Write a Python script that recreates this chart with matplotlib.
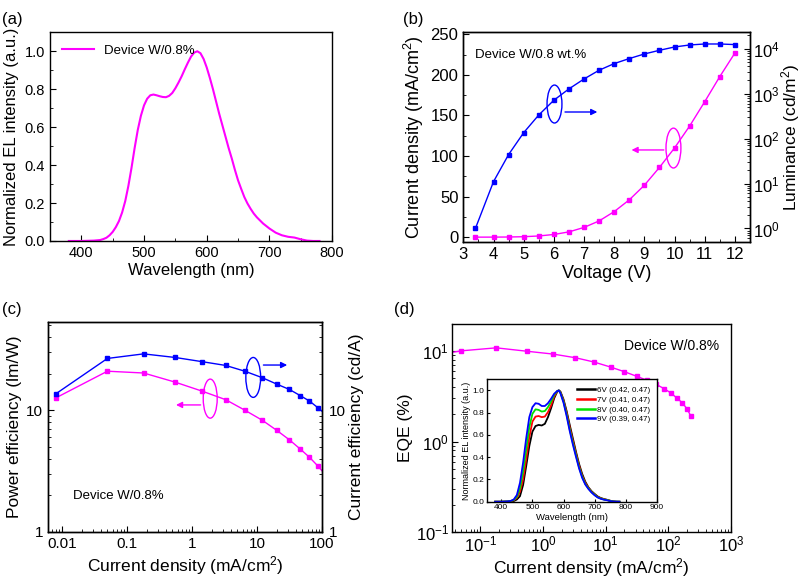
import numpy as np
import matplotlib.pyplot as plt
from matplotlib.patches import Ellipse
from matplotlib.ticker import MultipleLocator, LogLocator, FuncFormatter, NullFormatter

plt.rcParams['font.family'] = ['Liberation Sans', 'DejaVu Sans']
plt.rcParams['mathtext.fontset'] = 'custom'
plt.rcParams['mathtext.rm'] = 'Liberation Sans'
plt.rcParams['mathtext.it'] = 'Liberation Sans:italic'
plt.rcParams['axes.unicode_minus'] = False
plt.rcParams['xtick.direction'] = 'in'
plt.rcParams['ytick.direction'] = 'in'
plt.rcParams['axes.linewidth'] = 1.0

MAG = '#ff00ff'
BLUE = '#0000ff'

# (a) EL spectrum
wl = [380, 400, 420, 430, 435, 440, 445, 450, 455, 460, 465, 470, 475, 480, 485, 490, 495,
      500, 505, 510, 515, 520, 525, 530, 535, 540, 545, 550, 555, 560, 565, 570, 575,
      580, 585, 590, 595, 600, 605, 610, 615, 620, 625, 630, 635, 640, 645, 650, 655,
      660, 665, 670, 675, 680, 690, 700, 710, 720, 730, 740, 750, 760, 770, 780]
el_a = [0, 0, 0.002, 0.005, 0.01, 0.017, 0.03, 0.048, 0.073, 0.105, 0.15, 0.21, 0.29, 0.385, 0.49, 0.585, 0.66,
        0.715, 0.75, 0.768, 0.772, 0.768, 0.763, 0.759, 0.758, 0.765, 0.78, 0.805, 0.835, 0.868, 0.905, 0.94, 0.972,
        0.993, 1.0, 0.99, 0.96, 0.915, 0.86, 0.80, 0.735, 0.67, 0.61, 0.55, 0.49, 0.435, 0.375, 0.32, 0.275,
        0.232, 0.198, 0.17, 0.145, 0.125, 0.092, 0.066, 0.044, 0.03, 0.022, 0.018, 0.009, 0.002, 0, 0]

# inset spectra at different voltages
wl_inset = [380, 400, 420, 430, 440, 450, 460, 470, 480, 490, 500, 510, 520, 530, 540, 550,
            560, 570, 580, 585, 590, 600, 610, 620, 630, 640, 650, 660, 670, 680, 690, 700,
            710, 720, 730, 740, 750, 760, 770, 780]
el_6v = [0, 0, 0.001, 0.003, 0.006, 0.02, 0.05, 0.15, 0.32, 0.50, 0.63, 0.68, 0.69, 0.685, 0.70, 0.76,
         0.84, 0.93, 0.99, 1.0, 0.99, 0.92, 0.815, 0.69, 0.57, 0.45, 0.34, 0.25, 0.18, 0.13, 0.095, 0.07,
         0.047, 0.033, 0.024, 0.017, 0.009, 0.003, 0, 0]
el_7v = [0, 0, 0.002, 0.005, 0.012, 0.035, 0.09, 0.20, 0.38, 0.58, 0.72, 0.765, 0.77, 0.76, 0.765, 0.805,
         0.865, 0.945, 0.993, 1.0, 0.985, 0.91, 0.80, 0.67, 0.55, 0.435, 0.325, 0.235, 0.17, 0.125, 0.09, 0.065,
         0.043, 0.03, 0.022, 0.016, 0.008, 0.002, 0, 0]
el_8v = [0, 0, 0.003, 0.006, 0.015, 0.045, 0.12, 0.27, 0.47, 0.67, 0.79, 0.83, 0.825, 0.81, 0.815, 0.85,
         0.90, 0.96, 0.995, 1.0, 0.98, 0.90, 0.785, 0.65, 0.53, 0.42, 0.31, 0.225, 0.16, 0.12, 0.087, 0.062,
         0.04, 0.028, 0.02, 0.015, 0.007, 0.002, 0.001, 0]
el_9v = [0, 0, 0.003, 0.007, 0.02, 0.06, 0.17, 0.35, 0.57, 0.76, 0.85, 0.885, 0.88, 0.86, 0.86, 0.885,
         0.925, 0.97, 0.995, 1.0, 0.975, 0.89, 0.77, 0.635, 0.515, 0.405, 0.30, 0.215, 0.155, 0.115, 0.083, 0.058,
         0.038, 0.026, 0.018, 0.013, 0.006, 0.002, 0.001, 0]
inset_labels = ['6V (0.42, 0.47)', '7V (0.41, 0.47)', '8V (0.40, 0.47)', '9V (0.39, 0.47)']
inset_colors = ['black', 'red', '#00e000', BLUE]

# (b) J-V-L
voltage = [3.4, 4, 4.5, 5, 5.5, 6, 6.5, 7, 7.5, 8, 8.5, 9, 9.5, 10, 10.5, 11, 11.5, 12]
current = [0.008, 0.05, 0.18, 0.55, 1.45, 3.3, 6.5, 12.0, 20.0, 31.5, 46, 64, 86, 110, 137, 167, 198, 227]
luminance = [1.0, 11, 44, 135, 334, 710, 1270, 2110, 3300, 4640, 6000, 7590, 9160, 10860,
             12030, 12650, 12650, 12270]

# (c) efficiencies (up to 10 V)
cur_c = current[:14]
ce = [13.6, 26.6, 29.0, 27.1, 25.0, 23.3, 20.9, 18.5, 16.4, 14.8, 13.2, 11.9, 10.5, 9.4]
pe = [12.6, 20.9, 20.2, 17.0, 14.3, 12.2, 10.0, 8.28, 6.85, 5.71, 4.81, 4.11, 3.49, 3.0]

# (d) EQE
eqe = [8.2, 10.1, 10.9, 10.0, 9.3, 8.47, 7.6, 6.68, 5.93, 5.27, 4.76, 4.3, 3.85, 3.45,
       3.03, 2.69, 2.31, 1.94]

fig = plt.figure(figsize=(8.03, 5.79), dpi=100)

# ---------- (a)
axa = fig.add_axes([0.0623, 0.5838, 0.3512, 0.3604])
axa.plot(wl, el_a, color=MAG, lw=1.5, label='Device W/0.8%')
axa.set_xlim(350, 800)
axa.set_ylim(0, 1.1)
axa.xaxis.set_major_locator(MultipleLocator(100))
axa.xaxis.set_minor_locator(MultipleLocator(50))
axa.yaxis.set_major_locator(MultipleLocator(0.2))
axa.yaxis.set_minor_locator(MultipleLocator(0.1))
axa.yaxis.set_major_formatter(FuncFormatter(lambda v, p: f'{v:.1f}'))
axa.tick_params(labelsize=10.5, length=4)
axa.tick_params(which='minor', length=2)
axa.set_xlabel('Wavelength (nm)', fontsize=12, labelpad=2)
axa.set_ylabel('Normalized EL intensity (a.u.)', fontsize=12, labelpad=4)
axa.legend(loc='upper left', frameon=False, fontsize=9.5, handlelength=2.4,
           borderaxespad=0.3, bbox_to_anchor=(0.01, 0.985))
fig.text(0.003, 0.98, '(a)', fontsize=12, va='top')

# ---------- (b)
axb = fig.add_axes([0.577, 0.582, 0.357, 0.3622])
axb.plot(voltage, current, color=MAG, lw=1.0, marker='s', ms=3.2)
axb.set_xlim(3, 12.5)
axb.set_ylim(-6, 252.5)
axb.xaxis.set_major_locator(MultipleLocator(1))
axb.xaxis.set_minor_locator(MultipleLocator(0.5))
axb.yaxis.set_major_locator(MultipleLocator(50))
axb.yaxis.set_minor_locator(MultipleLocator(25))
axb.tick_params(labelsize=12, length=4)
axb.tick_params(which='minor', length=2)
axb.set_xlabel('Voltage (V)', fontsize=13, labelpad=2)
axb.set_ylabel('Current density (mA/cm$^2$)', fontsize=13, labelpad=3)
axb2 = axb.twinx()
axb2.plot(voltage, luminance, color=BLUE, lw=1.0, marker='s', ms=3.2)
axb2.set_yscale('log')
axb2.set_ylim(0.5, 2.3e4)
axb2.yaxis.set_major_locator(LogLocator(base=10, numticks=10))
axb2.yaxis.set_minor_locator(LogLocator(base=10, subs=np.arange(2, 10), numticks=10))
axb2.yaxis.set_minor_formatter(NullFormatter())
axb2.tick_params(labelsize=12, length=4, direction='in', pad=2)
axb2.tick_params(which='minor', length=2, direction='in')
axb2.set_ylabel('Luminance (cd/m$^2$)', fontsize=12.5, labelpad=0)
axb.text(0.041, 0.892, 'Device W/0.8 wt.%', transform=axb.transAxes, fontsize=9.5, va='center')
axb.add_patch(Ellipse((0.318, 0.658), 0.052, 0.181, transform=axb.transAxes,
                      fill=False, ec=BLUE, lw=1.0))
axb.annotate('', xy=(0.477, 0.62), xytext=(0.345, 0.62), xycoords='axes fraction',
             arrowprops=dict(arrowstyle='-|>', color=BLUE, lw=1.0, mutation_scale=9))
axb.add_patch(Ellipse((0.733, 0.448), 0.052, 0.19, transform=axb.transAxes,
                      fill=False, ec=MAG, lw=1.0))
axb.annotate('', xy=(0.577, 0.439), xytext=(0.709, 0.439), xycoords='axes fraction',
             arrowprops=dict(arrowstyle='-|>', color=MAG, lw=1.0, mutation_scale=9))
fig.text(0.502, 0.98, '(b)', fontsize=12, va='top')

# ---------- (c)
log_fmt = FuncFormatter(lambda v, p: f'{v:g}')
axc = fig.add_axes([0.0598, 0.0812, 0.3412, 0.3627])
axc.plot(cur_c, pe, color=MAG, lw=1.0, marker='s', ms=3.2)
axc.set_xscale('log')
axc.set_yscale('log')
axc.set_xlim(0.0061, 100)
axc.set_ylim(1, 53)
axc.xaxis.set_major_formatter(log_fmt)
axc.yaxis.set_major_formatter(log_fmt)
axc.xaxis.set_minor_formatter(NullFormatter())
axc.yaxis.set_minor_formatter(NullFormatter())
axc.tick_params(labelsize=11, length=4)
axc.tick_params(which='minor', length=2)
axc.set_xlabel('Current density (mA/cm$^2$)', fontsize=12.5, labelpad=2)
axc.set_ylabel('Power efficiency (lm/W)', fontsize=12.5, labelpad=3)
axc2 = axc.twinx()
axc2.plot(cur_c, ce, color=BLUE, lw=1.0, marker='s', ms=3.2)
axc2.set_yscale('log')
axc2.set_ylim(1, 53)
axc2.yaxis.set_major_formatter(log_fmt)
axc2.yaxis.set_minor_formatter(NullFormatter())
axc2.tick_params(labelsize=11, length=4, direction='in', pad=5)
axc2.tick_params(which='minor', length=2, direction='in')
axc2.set_ylabel('Current efficiency (cd/A)', fontsize=12.5, labelpad=2)
axc.text(0.09, 0.17, 'Device W/0.8%', transform=axc.transAxes, fontsize=9.5, va='center')
axc.add_patch(Ellipse((0.749, 0.736), 0.054, 0.19, transform=axc.transAxes,
                      fill=False, ec=BLUE, lw=1.0))
axc.annotate('', xy=(0.883, 0.795), xytext=(0.776, 0.795), xycoords='axes fraction',
             arrowprops=dict(arrowstyle='-|>', color=BLUE, lw=1.0, mutation_scale=9))
axc.add_patch(Ellipse((0.592, 0.635), 0.051, 0.186, transform=axc.transAxes,
                      fill=False, ec=MAG, lw=1.0))
axc.annotate('', xy=(0.457, 0.605), xytext=(0.567, 0.605), xycoords='axes fraction',
             arrowprops=dict(arrowstyle='-|>', color=MAG, lw=1.0, mutation_scale=9))
fig.text(0.003, 0.478, '(c)', fontsize=12, va='top')

# ---------- (d)
axd = fig.add_axes([0.5625, 0.0812, 0.3478, 0.3592])
axd.plot(current, eqe, color=MAG, lw=1.0, marker='s', ms=3.4)
axd.set_xscale('log')
axd.set_yscale('log')
axd.set_xlim(0.035, 1000)
axd.set_ylim(0.1, 20)
axd.xaxis.set_major_locator(LogLocator(base=10, numticks=10))
axd.xaxis.set_minor_locator(LogLocator(base=10, subs=np.arange(2, 10), numticks=10))
axd.yaxis.set_minor_locator(LogLocator(base=10, subs=np.arange(2, 10), numticks=10))
axd.xaxis.set_minor_formatter(NullFormatter())
axd.yaxis.set_minor_formatter(NullFormatter())
axd.tick_params(labelsize=12, length=4, pad=2)
axd.tick_params(which='minor', length=2)
axd.set_xlabel('Current density (mA/cm$^2$)', fontsize=12.5, labelpad=1)
axd.set_ylabel('EQE (%)', fontsize=12.5, labelpad=2)
axd.text(0.957, 0.895, 'Device W/0.8%', transform=axd.transAxes, fontsize=10,
         ha='right', va='center')
fig.text(0.491, 0.478, '(d)', fontsize=12, va='top')

# inset
axi = fig.add_axes([0.6069, 0.1335, 0.211, 0.2114])
for y, lab, c in zip([el_6v, el_7v, el_8v, el_9v], inset_labels, inset_colors):
    axi.plot(wl_inset, y, color=c, lw=1.3, label=lab)
axi.set_xlim(355, 900)
axi.set_ylim(0, 1.1)
axi.xaxis.set_major_locator(MultipleLocator(100))
axi.yaxis.set_major_locator(MultipleLocator(0.2))
axi.yaxis.set_major_formatter(FuncFormatter(lambda v, p: f'{v:.1f}'))
axi.tick_params(labelsize=6, length=2.5, pad=2)
axi.set_xlabel('Wavelength (nm)', fontsize=6.8, labelpad=1)
axi.set_ylabel('Normalized EL intensity (a.u.)', fontsize=6.5, labelpad=1)
leg = axi.legend(loc='upper right', frameon=False, fontsize=5.8, handlelength=2.3,
                 handletextpad=0.2, labelspacing=0.25, borderaxespad=0.2,
                 bbox_to_anchor=(0.99, 0.98))
for h in leg.get_lines():
    h.set_linewidth(1.8)

fig.savefig('out.png', dpi=100)
